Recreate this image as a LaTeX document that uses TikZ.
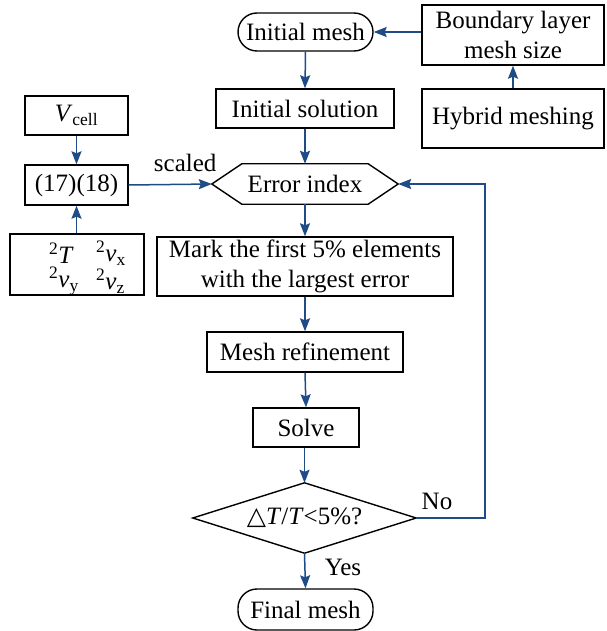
\documentclass[tikz,border=0pt]{standalone}
\usepackage{fontspec}
\setmainfont{Liberation Serif}
\newfontfamily\symfont{DejaVu Sans}
\usetikzlibrary{arrows.meta}
\definecolor{flowblue}{RGB}{31,75,135}
\begin{document}
\begin{tikzpicture}[x=1pt,y=-1pt,
  every node/.style={font=\fontsize{25}{30}\selectfont, inner sep=0pt, align=center},
  box/.style={draw, line width=1.4pt},
  roundbox/.style={box, rounded corners=19pt},
  outline/.style={draw, line width=1.4pt, line join=miter},
  arr/.style={draw=flowblue, line width=1.5pt, -{Stealth[length=13pt,width=10pt,inset=2pt]}},
  lbl/.style={font=\fontsize{25}{30}\selectfont}]
\useasboundingbox (0,0) rectangle (606,631);
% nodes
\node[roundbox, minimum width=135pt, minimum height=38pt] (im) at (305.5,32) {Initial mesh};
\node[box, minimum width=182pt, minimum height=60pt] (bl) at (513,35) {Boundary layer\\mesh size};
\node[box, minimum width=182pt, minimum height=59pt] (hy) at (513,118.5) {Hybrid meshing};
\node[box, minimum width=178pt, minimum height=39pt] (is) at (305,108.5) {Initial solution};
\node[minimum width=186pt, minimum height=40pt] (ei) at (305,184) {Error index};
\draw[outline] (ei.west) -- ([xshift=30pt]ei.north west) -- ([xshift=-30pt]ei.north east) -- (ei.east)
  -- ([xshift=-30pt]ei.south east) -- ([xshift=30pt]ei.south west) -- cycle;
\node[box, minimum width=103pt, minimum height=39pt] (vc) at (76.5,115.5) {\textit{V}\textsubscript{cell}};
\node[box, minimum width=103pt, minimum height=40pt] (eq) at (76.5,185) {(17)(18)};
\node[box, minimum width=134pt, minimum height=61pt] (var) at (77,264.5) {};
\node[anchor=west] (vT) at (49,253) {\textsuperscript{2}\textit{T}};
\node[anchor=west] (vx) at (96,253) {\textsuperscript{2}\textit{v}\textsubscript{x}};
\node[anchor=west] (vy) at (49,281) {\textsuperscript{2}\textit{v}\textsubscript{y}};
\node[anchor=west] (vz) at (96,281) {\textsuperscript{2}\textit{v}\textsubscript{z}};
\node[box, minimum width=296pt, minimum height=59pt] (mk) at (305,266.5) {Mark the first 5\% elements\\with the largest error};
\node[box, minimum width=196pt, minimum height=40pt] (mr) at (305,352) {Mesh refinement};
\node[box, minimum width=106pt, minimum height=39pt] (sv) at (306,427.5) {Solve};
\node[minimum width=223pt, minimum height=70pt] (dm) at (304.5,518) {{\symfont △}\textit{T}/\textit{T}<5\%?};
\draw[outline] (dm.west) -- (dm.north) -- (dm.east) -- (dm.south) -- cycle;
\node[roundbox, minimum width=135pt, minimum height=41pt] (fm) at (305.5,609.5) {Final mesh};
\coordinate (fb) at (485,518);
% connectors
\draw[arr] (im.east -| bl.west) -- (im.east);
\draw[arr] (hy.north) -- (bl.south);
\draw[arr] (im.south) -- (is.north);
\draw[arr] (is.south) -- (ei.north);
\draw[arr] (vc.south) -- (eq.north);
\draw[arr] (eq.south |- var.north) -- (eq.south);
\draw[arr] (eq.east) -- node[lbl, pos=0.68, above=12pt] (sc) {scaled} (ei.west);
\draw[arr] (ei.south) -- (mk.north);
\draw[arr] (mk.south) -- (mr.north);
\draw[arr] (mr.south) -- (sv.north);
\draw[arr] (sv.south -| dm.north) -- (dm.north);
\draw[arr] (dm.east) -- (fb) |- (ei.east);
\node[lbl] (no) at (437,501) {No};
\draw[arr] (dm.south) -- (fm.north);
\node[lbl] (yes) at (343,567) {Yes};
\end{tikzpicture}
\end{document}
